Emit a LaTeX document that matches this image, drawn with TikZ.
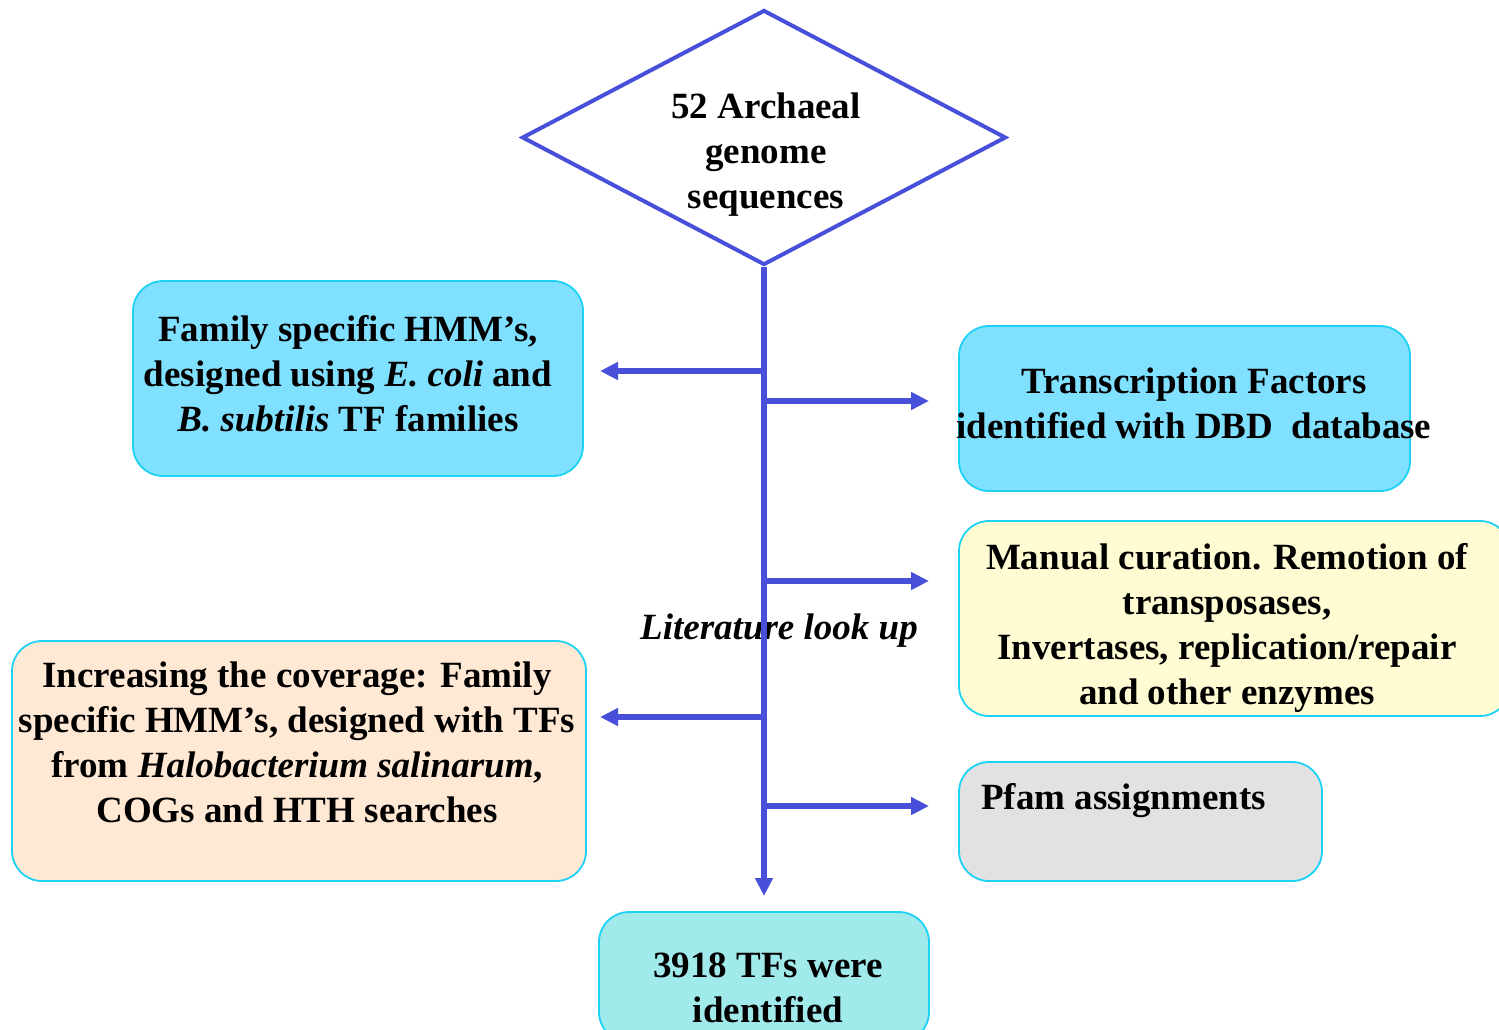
\documentclass[tikz,border=0pt]{standalone}
\usepackage{fontspec}
\setmainfont{Liberation Serif}
\usetikzlibrary{arrows.meta,shapes.geometric}
\definecolor{arrowblue}{RGB}{72,80,218}
\definecolor{boxline}{RGB}{30,210,245}
\definecolor{fillcyan}{RGB}{128,224,255}
\definecolor{fillyellow}{RGB}{255,252,212}
\definecolor{fillpeach}{RGB}{255,232,212}
\definecolor{fillgray}{RGB}{226,226,226}
\definecolor{fillteal}{RGB}{160,234,236}
\begin{document}
\begin{tikzpicture}[x=1pt,y=-1pt,
  box/.style={draw=boxline, line width=1.8pt, rounded corners=30pt, inner sep=0pt},
  txt/.style={font=\fontsize{37}{45}\selectfont\bfseries, align=center, inner sep=0pt},
  conn/.style={draw=arrowblue, line width=5.5pt, -{Triangle[length=18pt,width=17pt]}}]
\useasboundingbox (0,0) rectangle (1499,1029);
% diamond
\node[diamond, draw=arrowblue, line width=4pt, inner sep=0pt, minimum width=484pt, minimum height=255pt] (dia) at (764,137.5) {};
\node[txt] (diat) at (766,154.5) {52 Archaeal\\genome\\sequences};
% boxes
\node[box, fill=fillcyan, minimum width=450pt, minimum height=195pt] (fam) at (358,378.5) {};
\node[txt] (famt) at (348,374) {Family specific HMM’s,\\designed using \textit{E. coli} and\\\textit{B. subtilis} TF families};
\node[box, fill=fillcyan, minimum width=451pt, minimum height=165pt] (dbd) at (1184.5,408.5) {};
\node[txt] (dbdt) at (1194,403) {Transcription Factors\\identified with DBD\ \ database};
\node[box, fill=fillyellow, minimum width=551pt, minimum height=195pt] (man) at (1234.5,618.5) {};
\node[txt] (mant) at (1227,628) {Manual curation. Remotion of\\transposases,\\Invertases, replication/repair\\and other enzymes};
\node[box, fill=fillpeach, minimum width=574pt, minimum height=240pt] (cov) at (299,761) {};
\node[txt] (covt) at (297,742.5) {Increasing the coverage: Family\\specific HMM’s, designed with TFs\\from \textit{Halobacterium salinarum},\\COGs and HTH searches};
\node[box, fill=fillgray, minimum width=363pt, minimum height=119pt] (pfam) at (1140.5,821.5) {};
\node[txt, anchor=west] (pfamt) at (981,800.5) {Pfam assignments};
\node[box, fill=fillteal, minimum width=330pt, minimum height=130pt] (res) at (764,977) {};
\node[txt] (rest) at (768,988) {3918 TFs were\\identified};
\node[txt, font=\fontsize{37}{45}\selectfont\bfseries\itshape] (lit) at (779,631) {Literature look up};
% connectors
\coordinate (tend) at (764,896);
\coordinate (j1) at (764,371);  \coordinate (e1) at (600,371);
\coordinate (j2) at (764,401);  \coordinate (e2) at (929,401);
\coordinate (j3) at (764,581);  \coordinate (e3) at (929,581);
\coordinate (j4) at (764,717);  \coordinate (e4) at (600,717);
\coordinate (j5) at (764,806);  \coordinate (e5) at (929,806);
\draw[conn] (dia.south) -- (tend);
\draw[conn] (j1) -- (e1);
\draw[conn] (j2) -- (e2);
\draw[conn] (j3) -- (e3);
\draw[conn] (j4) -- (e4);
\draw[conn] (j5) -- (e5);
\end{tikzpicture}
\end{document}
